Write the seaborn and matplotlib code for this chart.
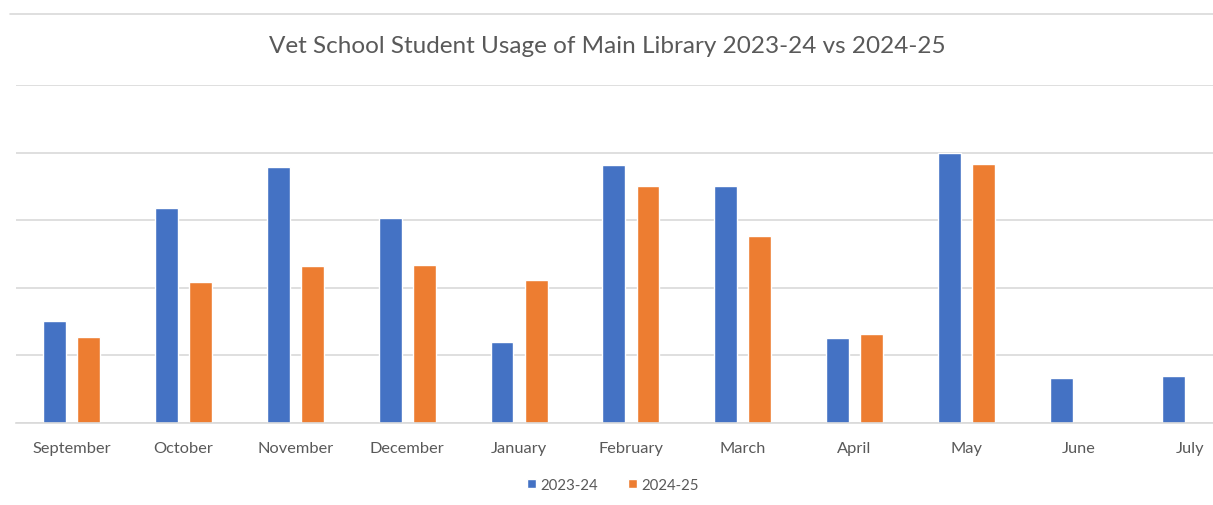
import pandas as pd
import numpy as np
import matplotlib.pyplot as plt
import seaborn as sns
from matplotlib.lines import Line2D
from matplotlib.patches import Patch

months = ['September', 'October', 'November', 'December', 'January', 'February',
          'March', 'April', 'May', 'June', 'July']
usage_2023_24 = [151, 318, 379, 303, 120, 382, 351, 126, 399, 67, 70]
usage_2024_25 = [127, 209, 232, 234, 212, 351, 277, 132, 383, np.nan, np.nan]
seasons = ['2023-24', '2024-25']
colors = ['#4472C4', '#ED7D31']

sns.set_theme(style='white')
plt.rcParams['font.family'] = ['Lato', 'DejaVu Sans']

df = pd.DataFrame({
    'Month': months * 2,
    'Usage': usage_2023_24 + usage_2024_25,
    'Season': [seasons[0]] * len(months) + [seasons[1]] * len(months),
})

fig = plt.figure(figsize=(12.13, 5.06), dpi=100)
ax = fig.add_axes([0.0129, 0.162, 1.0144, 0.668])

sns.barplot(data=df, x='Month', y='Usage', hue='Season', palette=colors,
            width=0.61, gap=0.33, saturation=1, legend=False, ax=ax)

ax.set_ylim(0, 500)
ax.set_xlim(-0.5, len(months) - 0.5)
ax.set_yticks(range(0, 501, 100))
ax.yaxis.grid(True, color='#d9d9d9', linewidth=1.2)
ax.set_axisbelow(True)
ax.tick_params(axis='y', left=False, labelleft=False)
ax.tick_params(axis='x', bottom=False, colors='#595959', labelsize=11.8, pad=7)
ax.set_xlabel('')
ax.set_ylabel('')
for side in ['top', 'right', 'left']:
    ax.spines[side].set_visible(False)
ax.spines['bottom'].set_color('#d9d9d9')
ax.spines['bottom'].set_linewidth(1.2)

fig.text(0.501, 0.909, 'Vet School Student Usage of Main Library 2023-24 vs 2024-25',
         ha='center', va='center', fontsize=17.5, color='#595959')

# thin frame line across the top of the chart
fig.add_artist(Line2D([0.008, 1.0], [0.970, 0.970], color='#d9d9d9', linewidth=1.2))

handles = [Patch(facecolor=c, label=s) for c, s in zip(colors, seasons)]
fig.legend(handles=handles, loc='center', bbox_to_anchor=(0.505, 0.040), ncol=2,
           frameon=False, fontsize=10.8, labelcolor='#595959', handlelength=0.6,
           handleheight=0.6, handletextpad=0.3, columnspacing=2.0)

fig.savefig('out.png', dpi=100)
